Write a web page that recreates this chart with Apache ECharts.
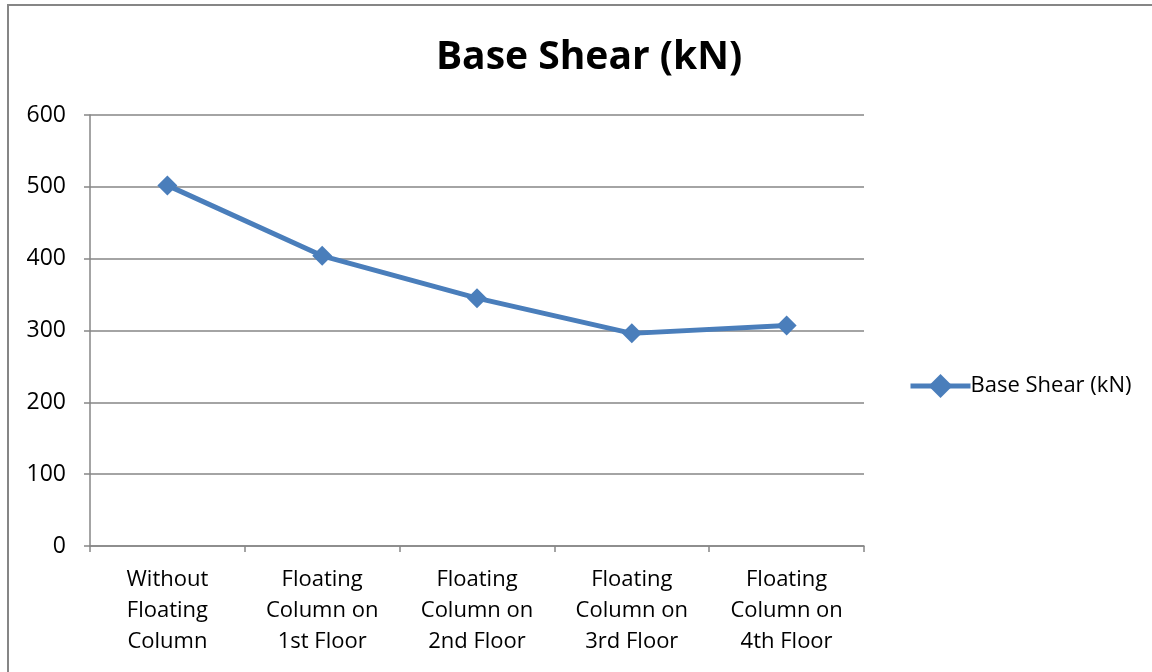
<!DOCTYPE html>
<html>
<head>
<meta charset="utf-8">
<style>
  html, body { margin: 0; padding: 0; background: #fff; }
  #chart { width: 1152px; height: 672px; }
</style>
<script src="https://cdn.jsdelivr.net/npm/echarts@6/dist/echarts.min.js"></script>
</head>
<body>
<div id="chart"></div>
<script>
const categories = [
  'Without\nFloating\nColumn',
  'Floating\nColumn on\n1st Floor',
  'Floating\nColumn on\n2nd Floor',
  'Floating\nColumn on\n3rd Floor',
  'Floating\nColumn on\n4th Floor'
];
const baseShear = [502, 404, 345, 296, 307];
const seriesName = 'Base Shear (kN)';
const titleText = 'Base Shear (kN)';

const FONT = '"Open Sans", "Noto Sans", sans-serif';
const LINE = '#4A7EBB';
const GRID = '#868686';

const chart = echarts.init(document.getElementById('chart'));
chart.setOption({
  animation: false,
  backgroundColor: '#fff',
  title: {
    text: titleText,
    left: 584,
    textAlign: 'center',
    top: 33,
    textStyle: { fontFamily: FONT, fontSize: 39, fontWeight: 'bold', color: '#000' }
  },
  legend: {
    data: [seriesName],
    left: 903,
    top: 369,
    itemWidth: 60,
    itemHeight: 30,
    itemGap: 2,
    lineStyle: { width: 5 },
    textStyle: { fontFamily: FONT, fontSize: 22, color: '#000', padding: [0, 0, 0, -5] }
  },
  // chart-area frame: left and top edges
  graphic: [
    { type: 'line', shape: { x1: 8, y1: 4, x2: 8, y2: 672 }, style: { stroke: GRID, lineWidth: 2 } },
    { type: 'line', shape: { x1: 7, y1: 5, x2: 1152, y2: 5 }, style: { stroke: GRID, lineWidth: 2 } }
  ],
  grid: { left: 90, right: 288, top: 115, bottom: 126 },
  xAxis: {
    type: 'category',
    data: categories,
    boundaryGap: true,
    axisLine: { lineStyle: { color: GRID, width: 1.5 } },
    axisTick: { show: true, length: 6, lineStyle: { color: GRID, width: 1.5 } },
    axisLabel: { fontFamily: FONT, fontSize: 22, color: '#000', lineHeight: 31, margin: 18, interval: 0 }
  },
  yAxis: {
    type: 'value',
    min: 0, max: 600, interval: 100,
    axisLine: { show: true, lineStyle: { color: GRID, width: 1.5 } },
    axisTick: { show: true, length: 6, lineStyle: { color: GRID, width: 1.5 } },
    axisLabel: { fontFamily: FONT, fontSize: 23, color: '#000', margin: 24 },
    splitLine: { lineStyle: { color: GRID, width: 1.5 } }
  },
  series: [{
    name: seriesName,
    type: 'line',
    data: baseShear,
    symbol: 'diamond',
    symbolSize: 20,
    itemStyle: { color: LINE },
    lineStyle: { color: LINE, width: 5 }
  }]
});
</script>
</body>
</html>
